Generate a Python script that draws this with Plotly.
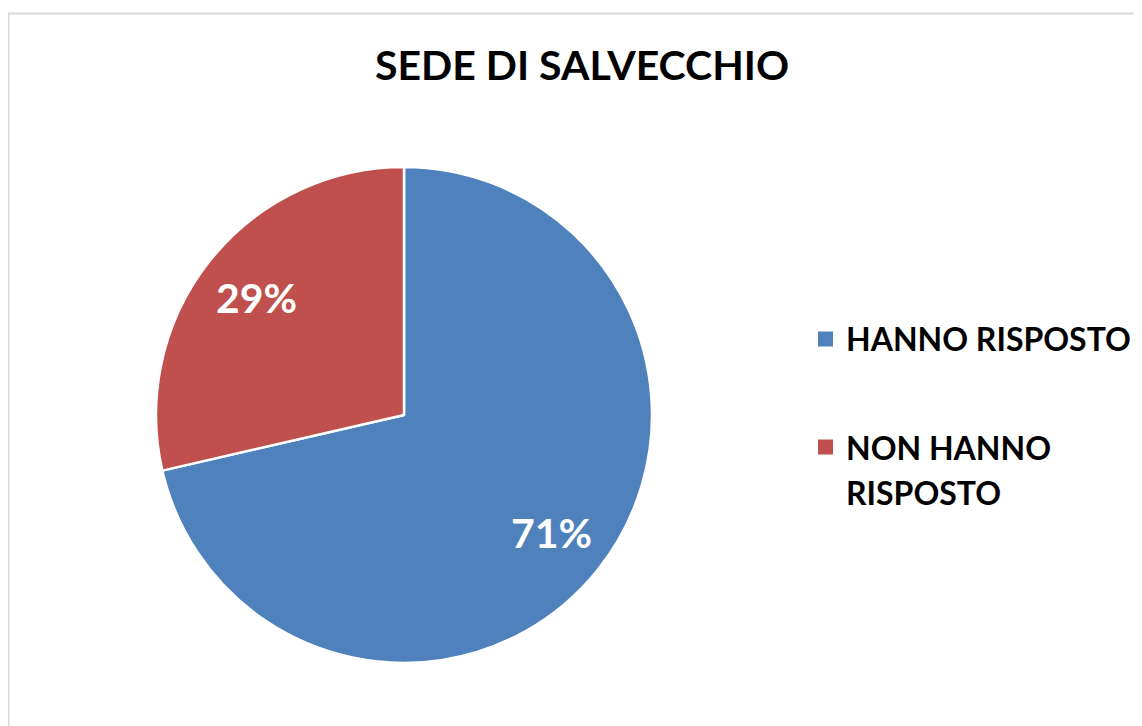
import math
import textwrap
import plotly.graph_objects as go

title_text = "SEDE DI SALVECCHIO"
labels = ["HANNO RISPOSTO", "NON HANNO RISPOSTO"]
values = [71.4, 28.6]
colors = ["#4F81BD", "#C0504D"]

# page body has an 8px margin; the figure is laid out in reference pixel coordinates
OFF = 8
W, H = 1142 - OFF, 726 - OFF
FONT = "Lato"

def px(x):
    return (x - OFF) / W

def py(y):
    return 1 - (y - OFF) / H

CX, CY, R = 404, 415, 248

fig = go.Figure()
fig.add_trace(go.Pie(
    labels=labels,
    values=values,
    sort=False,
    direction="clockwise",
    rotation=0,
    marker=dict(colors=colors, line=dict(color="white", width=2.5)),
    textinfo="none",
    domain=dict(x=[px(CX - R), px(CX + R)], y=[py(CY + R), py(CY - R)]),
    showlegend=False,
    hoverinfo="label+percent",
))

shapes = [dict(type="rect", xref="paper", yref="paper",
               x0=px(8.5), x1=1.05, y0=-0.05, y1=py(13.5),
               line=dict(color="#D9D9D9", width=2), fillcolor="rgba(0,0,0,0)", layer="below")]
annotations = []

# percentage labels inside slices
total = sum(values)
cum = 0
for v in values:
    mid = (cum + v / 2) / total
    cum += v
    th = 2 * math.pi * mid
    r = 0.76 * R
    x = CX + r * math.sin(th)
    y = CY - r * math.cos(th)
    annotations.append(dict(xref="paper", yref="paper", x=px(x), y=py(y),
                            xanchor="center", yanchor="middle", showarrow=False,
                            text=f"{round(100 * v / total)}%",
                            font=dict(family=FONT, size=41, color="white", weight="bold")))

# legend
legend_rows = [339, 447]
line_gap = 45
for i, (lab, col) in enumerate(zip(labels, colors)):
    yc = legend_rows[i]
    shapes.append(dict(type="rect", xref="paper", yref="paper",
                       x0=px(818), x1=px(833), y0=py(yc + 7.5), y1=py(yc - 7.5),
                       line=dict(width=0), fillcolor=col))
    for j, line in enumerate(textwrap.wrap(lab, 14)):
        annotations.append(dict(xref="paper", yref="paper", x=px(844), y=py(yc + j * line_gap),
                                xanchor="left", yanchor="middle", showarrow=False, text=line,
                                font=dict(family=FONT, size=32, color="black", weight="bold")))

fig.update_layout(
    width=W, height=H,
    margin=dict(l=0, r=0, t=0, b=0),
    paper_bgcolor="white",
    plot_bgcolor="white",
    title=dict(text=title_text, x=px(582), xanchor="center", y=py(66), yanchor="middle",
               font=dict(family=FONT, size=41, color="black", weight="bold")),
    shapes=shapes,
    annotations=annotations,
)

fig.write_html("out.html")
